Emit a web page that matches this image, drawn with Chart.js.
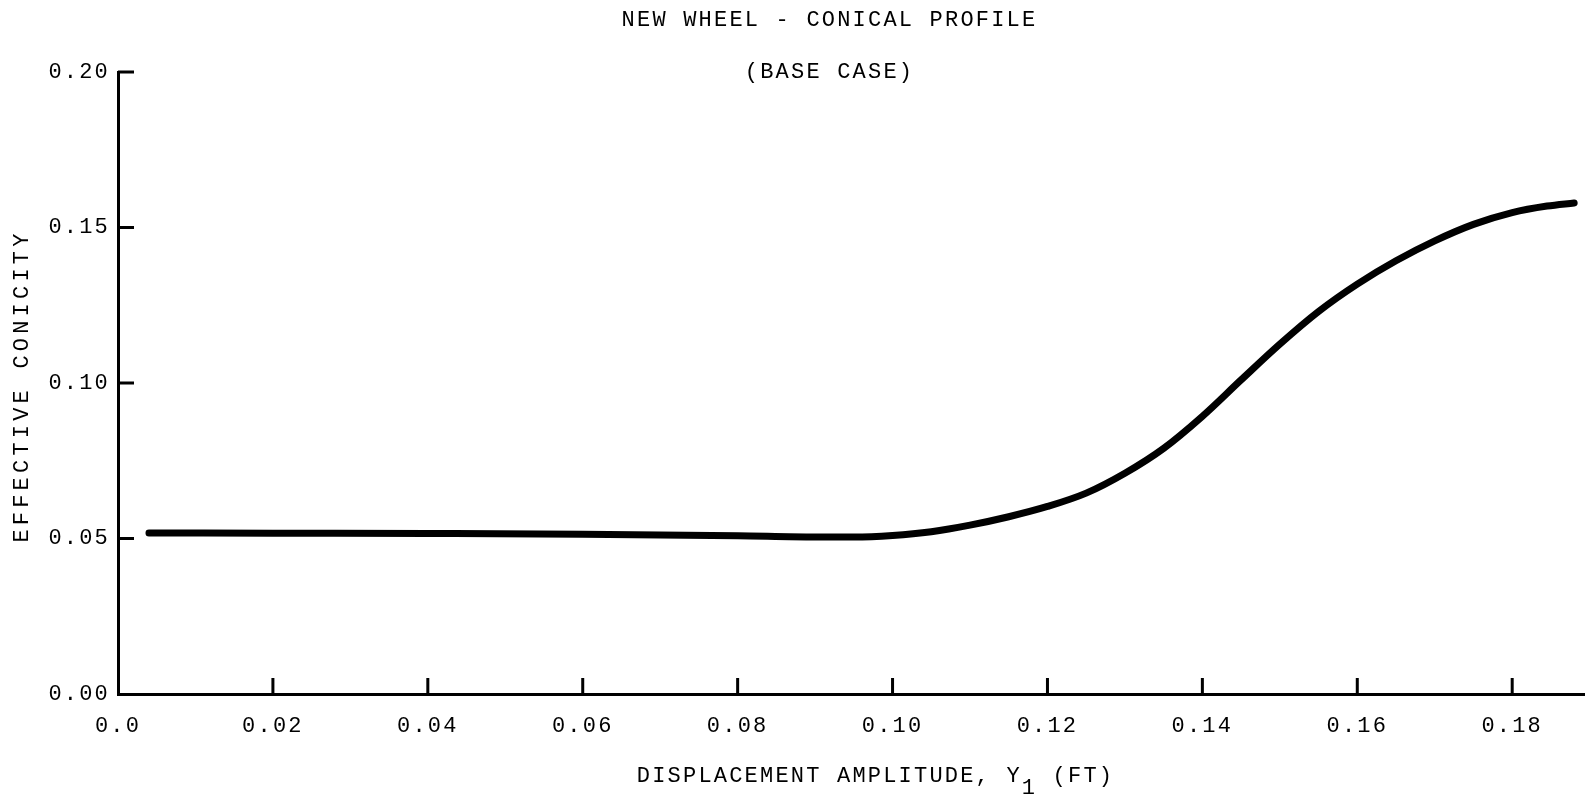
<!DOCTYPE html>
<html>
<head>
<meta charset="utf-8">
<script src="https://cdn.jsdelivr.net/npm/chart.js@4.4.1/dist/chart.umd.min.js"></script>
<style>
html,body{margin:0;padding:0;background:#fff}
#wrap{width:1585px;height:799px}
</style>
</head>
<body>
<div id="wrap"><canvas id="chart"></canvas></div>
<script>
// ===== DATA =====
const amplitude=[0.004,0.02,0.04,0.06,0.08,0.09,0.095,0.10,0.105,0.11,0.115,0.12,0.125,0.13,0.135,0.14,0.145,0.15,0.155,0.16,0.165,0.17,0.175,0.18,0.1845,0.188];
const conicity=[0.0518,0.0517,0.0516,0.0514,0.0509,0.0505,0.0505,0.0510,0.0522,0.0543,0.0570,0.0603,0.0646,0.0710,0.0790,0.0893,0.1010,0.1125,0.1230,0.1318,0.1393,0.1457,0.1510,0.1548,0.1569,0.1579];
const xTicks=[0,0.02,0.04,0.06,0.08,0.10,0.12,0.14,0.16,0.18];
const yTicks=[0,0.05,0.10,0.15,0.20];
const titleLines=["NEW WHEEL - CONICAL PROFILE","(BASE CASE)"];
const xTitle=["DISPLACEMENT AMPLITUDE, Y","1"," (FT)"];
const yTitle="EFFECTIVE CONICITY";

const FONT='"Liberation Mono", "DejaVu Sans Mono", monospace';
const SPACING='2.2px';

// ===== PLUGINS =====
// typewriter look: wider letter spacing for everything drawn
const spacing={id:'spacing',beforeDraw(chart){chart.ctx.letterSpacing=SPACING;}};

// tick marks pointing into the plot
const tickMarks={id:'tickMarks',beforeDatasetsDraw(chart){
  const {ctx,scales:{x,y},chartArea:a}=chart;
  ctx.save();ctx.strokeStyle='#000';ctx.lineWidth=3;ctx.beginPath();
  x.ticks.forEach(t=>{if(t.value===0)return;const px=x.getPixelForValue(t.value);ctx.moveTo(px,a.bottom);ctx.lineTo(px,a.bottom-16);});
  y.ticks.forEach(t=>{if(t.value===0)return;const py=y.getPixelForValue(t.value);ctx.moveTo(a.left,py);ctx.lineTo(a.left+16,py);});
  ctx.stroke();ctx.restore();
}};

// heading lines, axis titles (x title has the lowered subscript)
const texts={id:'texts',afterDraw(chart){
  const {ctx,chartArea:a}=chart;
  ctx.save();
  ctx.letterSpacing=SPACING;ctx.fillStyle='#000';ctx.font='22px '+FONT;
  ctx.textAlign='center';ctx.textBaseline='middle';
  const cx=(a.left+a.right)/2-22;
  ctx.fillText(titleLines[0],cx,20);
  ctx.fillText(titleLines[1],cx,a.top);
  ctx.textAlign='left';
  const w=xTitle.map(s=>ctx.measureText(s).width);
  let px=(a.left+a.right)/2+24-(w[0]+w[1]+w[2])/2;
  const ty=a.bottom+82;
  ctx.fillText(xTitle[0],px,ty);px+=w[0];
  ctx.fillText(xTitle[1],px,ty+12);px+=w[1];
  ctx.fillText(xTitle[2],px,ty);
  // y title, reading upward
  ctx.letterSpacing='4.2px';
  ctx.translate(22,(a.top+a.bottom)/2+3);ctx.rotate(-Math.PI/2);
  ctx.textAlign='center';
  ctx.fillText(yTitle,0,0);
  ctx.restore();
}};

// ===== CHART =====
const ctx=document.getElementById('chart');
new Chart(ctx,{
  type:'line',
  data:{datasets:[{
    data:amplitude.map((v,i)=>({x:v,y:conicity[i]})),
    borderColor:'#000',borderWidth:7,borderCapStyle:'round',borderJoinStyle:'round',
    pointRadius:0,fill:false,cubicInterpolationMode:'monotone'
  }]},
  options:{
    responsive:true,maintainAspectRatio:false,animation:false,
    layout:{padding:{top:72,right:0,bottom:0,left:0}},
    plugins:{legend:{display:false},tooltip:{enabled:false},title:{display:false}},
    scales:{
      x:{type:'linear',min:0,max:0.1894,
        afterFit:s=>{s.height=105;},
        afterBuildTicks:s=>{s.ticks=xTicks.map(v=>({value:v}));},
        grid:{display:false,drawTicks:false},
        border:{display:true,color:'#000',width:3},
        ticks:{includeBounds:false,padding:19,color:'#000',font:{family:FONT,size:22},maxRotation:0,autoSkip:false,
          callback:v=>v===0?'0.0':v.toFixed(2)}
      },
      y:{type:'linear',min:0,max:0.2,
        afterFit:s=>{s.width=118;},
        afterBuildTicks:s=>{s.ticks=yTicks.map(v=>({value:v}));},
        grid:{display:false,drawTicks:false},
        border:{display:true,color:'#000',width:3},
        ticks:{padding:8,color:'#000',font:{family:FONT,size:22},autoSkip:false,
          callback:v=>v.toFixed(2)}
      }
    }
  },
  plugins:[spacing,tickMarks,texts]
});
</script>
</body>
</html>
